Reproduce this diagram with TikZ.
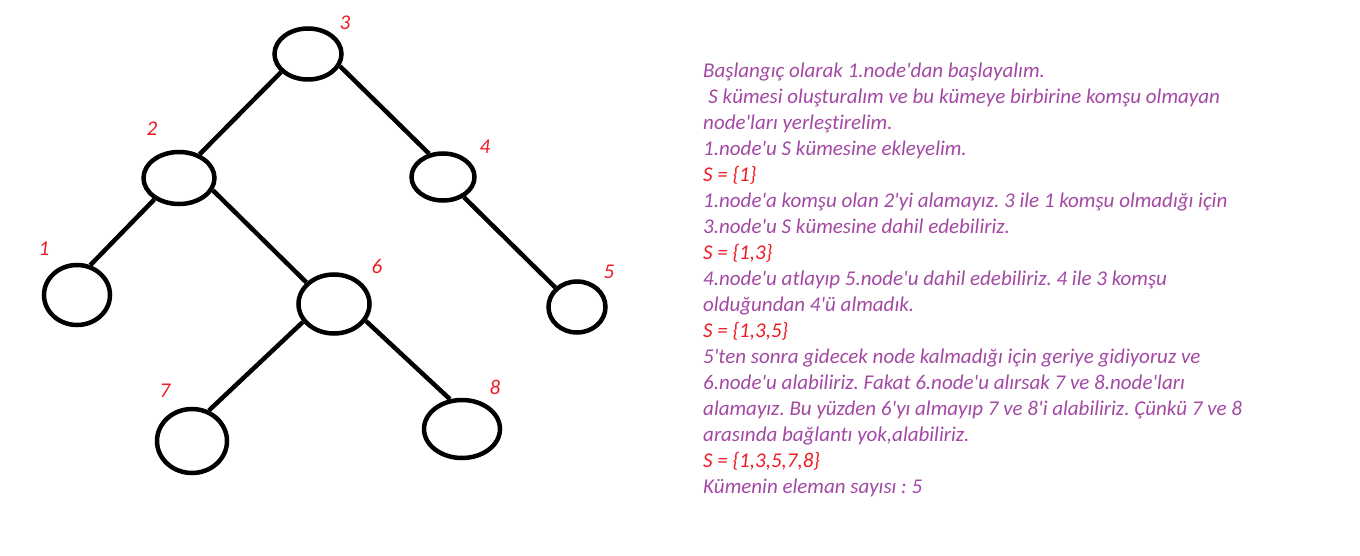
\documentclass[tikz,border=0pt]{standalone}
\usepackage{fontspec}
\setmainfont{Carlito}[Ligatures=NoCommon]
\usetikzlibrary{shapes.geometric}
\definecolor{txtpurple}{RGB}{163,73,164}
\definecolor{lblred}{RGB}{237,28,36}
\newcommand{\ap}{\textquotesingle}
\tikzset{
  vtx/.style={ellipse, draw=black, line width=4.5pt, inner sep=0pt},
  edge/.style={line width=4.5pt, draw=black},
  lbl/.style={text=lblred, font=\fontsize{21}{25}\selectfont\itshape, inner sep=0pt},
}
\frenchspacing
\begin{document}
\begin{tikzpicture}[x=1pt,y=-1pt]
\useasboundingbox[fill=white] (0,0) rectangle (1360,556);
% vertices
\node[vtx, minimum width=67pt, minimum height=51pt] (n3) at (308,54) {};
\node[vtx, minimum width=71pt, minimum height=52pt] (n2) at (179,178) {};
\node[vtx, minimum width=63pt, minimum height=47pt] (n4) at (443,177) {};
\node[vtx, minimum width=66pt, minimum height=60pt] (n1) at (77,295) {};
\node[vtx, minimum width=71pt, minimum height=59pt] (n6) at (334,304) {};
\node[vtx, minimum width=57pt, minimum height=51pt] (n5) at (577,307) {};
\node[vtx, minimum width=70pt, minimum height=64pt] (n7) at (192,441) {};
\node[vtx, minimum width=76pt, minimum height=58pt] (n8) at (462,429) {};
% edges
\draw[edge] (n3.214) -- (n2.49);
\draw[edge] (n3.339) -- (n4.121);
\draw[edge] (n2.221) -- (n1.66);
\draw[edge] (n2.340) -- (n6.142);
\draw[edge] (n4.316) -- (n5.138);
\draw[edge] (n6.210) -- (n7.61);
\draw[edge] (n6.332) -- (n8.112);
% labels
\node[lbl] (l3) at (345,23) {3};
\node[lbl] (l2) at (152,129) {2};
\node[lbl] (l4) at (485,147) {4};
\node[lbl] (l1) at (44,249) {1};
\node[lbl] (l6) at (377,266) {6};
\node[lbl] (l5) at (609,272) {5};
\node[lbl] (l7) at (165,391) {7};
\node[lbl] (l8) at (495,387) {8};
% text
\node[anchor=base west, inner sep=0pt, align=left, text=txtpurple,
      font=\fontsize{21}{26}\selectfont\itshape] (txt) at (703,493) {%
Başlangıç olarak 1.node\ap dan başlayalım.\\
\hspace*{0.25em}S kümesi oluşturalım ve bu kümeye birbirine komşu olmayan\\
node\ap ları yerleştirelim.\\
1.node\ap u S kümesine ekleyelim.\\
{\color{lblred}S = \{1\}}\\
1.node\ap a komşu olan 2\ap yi alamayız. 3 ile 1 komşu olmadığı için\\
3.node\ap u S kümesine dahil edebiliriz.\\
{\color{lblred}S = \{1,3\}}\\
4.node\ap u atlayıp 5.node\ap u dahil edebiliriz. 4 ile 3 komşu\\
olduğundan 4\ap ü almadık.\\
{\color{lblred}S = \{1,3,5\}}\\
5\ap ten sonra gidecek node kalmadığı için geriye gidiyoruz ve\\
6.node\ap u alabiliriz. Fakat 6.node\ap u alırsak 7 ve 8.node\ap ları\\
alamayız. Bu yüzden 6\ap yı almayıp 7 ve 8\ap i alabiliriz. Çünkü 7 ve 8\\
arasında bağlantı yok,alabiliriz.\\
{\color{lblred}S = \{1,3,5,7,8\}}\\
Kümenin eleman sayısı : 5};
\end{tikzpicture}
\end{document}
